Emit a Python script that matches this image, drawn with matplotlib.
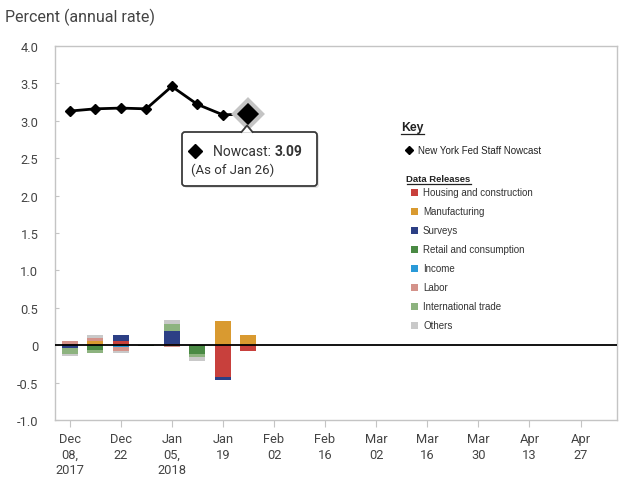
import datetime as dt
import matplotlib
matplotlib.use("Agg")
import matplotlib.pyplot as plt
import matplotlib.dates as mdates
from matplotlib.patches import FancyBboxPatch, Rectangle, Polygon
from matplotlib.lines import Line2D
from matplotlib.transforms import IdentityTransform

# ---- data -------------------------------------------------------------
weeks = ["2017-12-08", "2017-12-15", "2017-12-22", "2017-12-29",
         "2018-01-05", "2018-01-12", "2018-01-19", "2018-01-26"]
nowcast = [3.13, 3.16, 3.17, 3.16, 3.46, 3.22, 3.08, 3.09]

categories = ["Housing and construction", "Manufacturing", "Surveys",
              "Retail and consumption", "Income", "Labor",
              "International trade", "Others"]
housing       = [0.02, 0.00, 0.05, 0.00, 0.01, 0.00, -0.43, -0.08]
manufacturing = [0.00, 0.05, 0.00, 0.005, 0.00, 0.00, 0.32, 0.13]
surveys       = [-0.04, 0.00, 0.08, 0.00, 0.18, 0.00, -0.04, 0.00]
retail        = [0.00, -0.06, 0.00, -0.01, 0.00, -0.12, 0.00, 0.00]
income        = [0.00, 0.01, -0.03, 0.00, 0.00, 0.00, 0.00, 0.00]
labor         = [0.03, 0.03, -0.05, 0.00, -0.03, 0.00, 0.00, 0.00]
intl_trade    = [-0.08, -0.04, 0.00, 0.00, 0.10, -0.04, 0.00, 0.00]
others        = [-0.03, 0.04, -0.03, 0.00, 0.05, -0.05, 0.00, 0.00]
series = [housing, manufacturing, surveys, retail, income, labor,
          intl_trade, others]
colors = ["#c8403c", "#d99a30", "#2c3f85", "#4a8a44", "#2a9ad8",
          "#d4928a", "#8db37f", "#c9c9c9"]

tick_dates = ["2017-12-08", "2017-12-22", "2018-01-05", "2018-01-19",
              "2018-02-02", "2018-02-16", "2018-03-02", "2018-03-16",
              "2018-03-30", "2018-04-13", "2018-04-27"]
tick_labels = ["Dec\n08,\n2017", "Dec\n22", "Jan\n05,\n2018", "Jan\n19",
               "Feb\n02", "Feb\n16", "Mar\n02", "Mar\n16", "Mar\n30",
               "Apr\n13", "Apr\n27"]
y_ticks = [4.0, 3.5, 3.0, 2.5, 2.0, 1.5, 1.0, 0.5, 0, -0.5, -1.0]
y_labels = ["4.0", "3.5", "3.0", "2.5", "2.0", "1.5", "1.0", "0.5", "0",
            "-0.5", "-1.0"]

# ---- figure -----------------------------------------------------------
W, H = 619, 481
fig = plt.figure(figsize=(W / 100, H / 100), dpi=100)
fig.patch.set_facecolor("white")
ax = fig.add_axes([55 / W, 1 - 421 / H, (617 - 55) / W, (421 - 47) / H])

def todate(s):
    return mdates.date2num(dt.datetime.strptime(s, "%Y-%m-%d"))

x = [todate(d) for d in weeks]

# stacked contributions: positives build upward, negatives downward
pos_base = [0.0] * len(x)
neg_base = [0.0] * len(x)
for vals, col in zip(series, colors):
    for i, v in enumerate(vals):
        if v > 0:
            ax.bar(x[i], v, bottom=pos_base[i], width=4.4, color=col,
                   linewidth=0, zorder=2)
            pos_base[i] += v
        elif v < 0:
            ax.bar(x[i], v, bottom=neg_base[i], width=4.4, color=col,
                   linewidth=0, zorder=2)
            neg_base[i] += v

ax.axhline(0, color="black", lw=1.3, zorder=3)

ax.plot(x, nowcast, color="black", lw=2, marker="D", ms=5.5, zorder=4)
ax.plot(x[-1], nowcast[-1], marker="D", ms=14, mfc="black", mec="#c4c4c4",
        mew=3, zorder=5)

ax.set_xlim(todate("2017-12-04"), todate("2018-05-07"))
ax.set_ylim(-1.0, 4.0)
ax.set_yticks(y_ticks)
ax.set_yticklabels(y_labels)
ax.set_xticks([todate(d) for d in tick_dates])
ax.set_xticklabels(tick_labels, linespacing=1.25)

for sp in ax.spines.values():
    sp.set_color("#c4c4c4")
    sp.set_linewidth(1.0)
ax.tick_params(axis="y", direction="in", length=3, color="#c4c4c4",
               pad=12, labelsize=9.3, labelcolor="#444444")
ax.tick_params(axis="x", direction="out", length=5, color="#c4c4c4",
               pad=4, labelsize=9.3, labelcolor="#444444")
for lab in ax.get_xticklabels() + ax.get_yticklabels():
    lab.set_fontfamily(["Roboto", "DejaVu Sans"])
for lab in ax.get_xticklabels():
    lab.set_verticalalignment("top")

fig.text(5 / W, 1 - 17 / H, "Percent (annual rate)", fontsize=11.5,
         color="#444444", family=["Roboto", "DejaVu Sans"], va="center",
         ha="left")

# ---- tooltip for the latest nowcast ------------------------------------
ident = IdentityTransform()

def P(px, py):
    return (px, H - py)

box = FancyBboxPatch(P(182, 187), 135, 54,
                     boxstyle="round,pad=0,rounding_size=3",
                     transform=ident, facecolor="white", edgecolor="#3a3a3a",
                     lw=1.3, zorder=10)
fig.add_artist(box)
shadow = FancyBboxPatch(P(184, 189), 135, 54,
                        boxstyle="round,pad=0,rounding_size=3",
                        transform=ident, facecolor="#e4e4e4",
                        edgecolor="none", zorder=9)
fig.add_artist(shadow)
tri = Polygon([P(241.5, 133.8), P(247, 126.5), P(252.5, 133.8)],
              closed=True, transform=ident, facecolor="white",
              edgecolor="none", zorder=11)
fig.add_artist(tri)
fig.add_artist(Line2D([241.5, 247, 252.5], [H - 133, H - 126.5, H - 133],
                      transform=ident, color="#3a3a3a", lw=1.3, zorder=12))
fig.add_artist(Line2D([195], [H - 151.5], marker="D", ms=7, color="black",
                      transform=ident, zorder=12))
t1 = fig.text(213 / W, 1 - 152 / H, "Nowcast: ", fontsize=10,
              family=["Roboto", "DejaVu Sans"], color="#333333",
              va="center", ha="left", zorder=12)
fig.canvas.draw()
bb = t1.get_window_extent()
fig.text(bb.x1 / W, 1 - 152 / H, f"{nowcast[-1]:.2f}", fontsize=10,
         family=["Roboto", "DejaVu Sans"], weight="bold", color="#333333",
         va="center", ha="left", zorder=12)
fig.text(191 / W, 1 - 170 / H, "(As of Jan 26)", fontsize=9.5,
         family=["Roboto", "DejaVu Sans"], color="#333333", va="center",
         ha="left", zorder=12)

# ---- key --------------------------------------------------------------
narrow = ["Liberation Sans", "DejaVu Sans"]
renderer = fig.canvas.get_renderer()

def underlined(px, py, s, size):
    t = fig.text(px / W, 1 - py / H, s, fontsize=size, family=narrow,
                 weight="bold", color="#222222", va="center", ha="left")
    e = t.get_window_extent(renderer)
    fig.add_artist(Line2D([e.x0, e.x1], [e.y0 - 0.5, e.y0 - 0.5],
                          transform=ident, color="#222222", lw=0.9))

underlined(401, 128, "Key", 8.8)
fig.add_artist(Line2D([409], [H - 150.5], marker="D", ms=4.5, color="black",
                      transform=ident))
fig.text(418 / W, 1 - 150.5 / H, "New York Fed Staff Nowcast", fontsize=7.0,
         family=narrow, color="#222222", va="center", ha="left")
underlined(406.5, 180, "Data Releases", 6.8)

for k, (name, col) in enumerate(zip(categories, colors)):
    yy = 193.5 + k * 18.95
    fig.add_artist(Rectangle((411, H - yy - 3.5), 7, 7, transform=ident,
                             facecolor=col, edgecolor="none"))
    fig.text(423 / W, 1 - yy / H, name, fontsize=7.0, family=narrow,
             color="#333333", va="center", ha="left")

fig.savefig("out.png", dpi=100, facecolor="white")
